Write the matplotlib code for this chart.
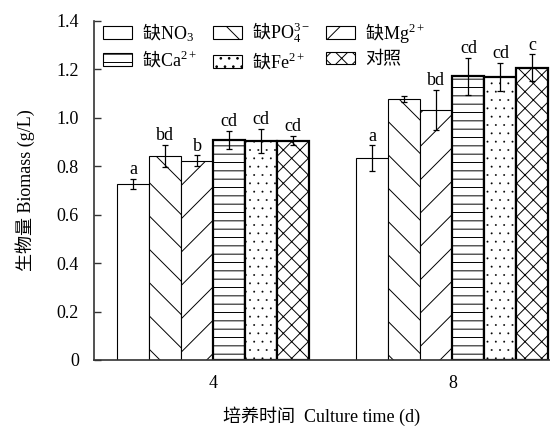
import numpy as np
import matplotlib.pyplot as plt

plt.rcParams['font.family'] = ['Liberation Serif', 'Noto Sans CJK SC']
plt.rcParams['mathtext.fontset'] = 'custom'
plt.rcParams['mathtext.rm'] = 'Liberation Serif'
plt.rcParams['mathtext.it'] = 'Liberation Serif:italic'
plt.rcParams['hatch.linewidth'] = 0.7

# Data
days = [4, 8]
day_labels = ['4', '8']
treatments = ['缺$\\mathrm{NO_3}$', '缺$\\mathrm{PO_4^{3-}}$', '缺$\\mathrm{Mg^{2+}}$',
              '缺$\\mathrm{Ca^{2+}}$', '缺$\\mathrm{Fe^{2+}}$', '对照']
biomass_d4 = [0.727, 0.842, 0.823, 0.909, 0.905, 0.906]
biomass_d8 = [0.833, 1.077, 1.032, 1.171, 1.168, 1.207]
err_d4 = [0.022, 0.045, 0.022, 0.037, 0.050, 0.018]
err_d8 = [0.053, 0.014, 0.084, 0.076, 0.059, 0.055]
letters_d4 = ['a', 'bd', 'b', 'cd', 'cd', 'cd']
letters_d8 = ['a', '', 'bd', 'cd', 'cd', 'c']

hatches = ['', '\\', '/', '--', '..', 'xx']
hatch_widths = [0.7, 0.7, 0.7, 0.7, 0.15, 0.7]
edge_widths = [0.8, 0.8, 0.8, 1.6, 1.6, 1.6]
width = 0.535

fig = plt.figure(figsize=(5.5, 4.26), dpi=100)
ax = fig.add_axes([0.171, 0.155, 0.829, 0.796])

bars = []
for i, name in enumerate(treatments):
    xs = np.array(days) + (i - 2.5) * width
    vals = [biomass_d4[i], biomass_d8[i]]
    errs = [err_d4[i], err_d8[i]]
    with plt.rc_context({'hatch.linewidth': hatch_widths[i]}):
        b = ax.bar(xs, vals, width, color='white', edgecolor='black',
                   linewidth=edge_widths[i], hatch=hatches[i], label=name,
                   yerr=errs, capsize=2.5,
                   error_kw=dict(elinewidth=0.9, capthick=0.9, ecolor='black'))
    for p in b.patches:
        if hasattr(p, 'set_hatch_linewidth'):
            p.set_hatch_linewidth(hatch_widths[i])
    bars.append(b)
    for x, v, e, t in zip(xs, vals, errs, [letters_d4[i], letters_d8[i]]):
        if t:
            ax.annotate(t, (x, v + e), xytext=(0, 0.5), textcoords='offset points',
                        ha='center', va='bottom', fontsize=13)

ax.set_xlim(2.007, 9.632)
ax.set_ylim(0, 1.4)
ax.set_xticks(days)
ax.set_xticklabels(day_labels)
ax.set_yticks(np.arange(0, 1.41, 0.2))
ax.set_yticklabels(['0', '0.2', '0.4', '0.6', '0.8', '1.0', '1.2', '1.4'])
ax.tick_params(axis='y', direction='in', length=5, width=1, color='#333333',
               labelsize=13, pad=11)
ax.tick_params(axis='x', length=0, labelsize=13, pad=11)

for s in ['top', 'right']:
    ax.spines[s].set_visible(False)
for s in ['left', 'bottom']:
    ax.spines[s].set_color('#333333')
    ax.spines[s].set_linewidth(1.2)

ax.set_xlabel('培养时间  Culture time (d)', fontsize=13)
ax.xaxis.set_label_coords(0.5, -0.165)
ax.xaxis.label.set_va('center')
ax.set_ylabel('生物量 Biomass (g/L)', fontsize=13)
ax.yaxis.set_label_coords(-0.151, 0.5)
ax.yaxis.label.set_va('center')

# legend fills column by column, so reorder to get the row layout
order = [0, 3, 1, 4, 2, 5]
leg = ax.legend([bars[k] for k in order], [treatments[k] for k in order],
                ncol=3, loc='upper left', bbox_to_anchor=(0.02, 1.0),
                frameon=False, borderpad=0, borderaxespad=0,
                prop={'family': ['Noto Sans CJK SC'], 'size': 13},
                handlelength=1.6, handleheight=0.7, handletextpad=0.55,
                columnspacing=0.9, labelspacing=0.3)
for h in leg.legend_handles:
    h.set_linewidth(0.8)

plt.savefig('out.png', dpi=100)
